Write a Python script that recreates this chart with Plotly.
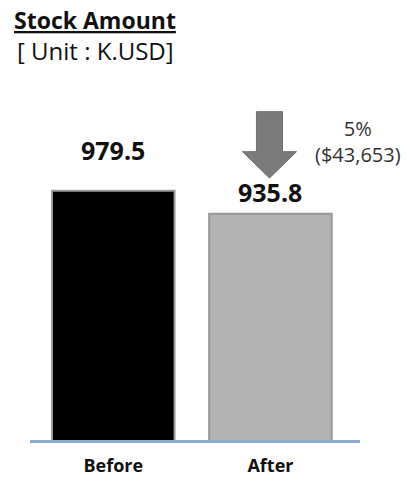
import plotly.graph_objects as go

categories = ["Before", "After"]
values = [979.5, 935.8]
value_labels = ["979.5", "935.8"]
bar_colors = ["#000000", "#b3b3b3"]
change_pct = "5%"
change_amt = "($43,653)"

FONT = "Open Sans"

fig = go.Figure()
fig.add_trace(go.Bar(
    x=categories, y=values, width=0.78,
    marker=dict(color=bar_colors, line=dict(color=["#9a9a9a", "#999999"], width=2)),
    hoverinfo="skip",
))

# value labels
shifts = [22, 3]
for c, v, t, s in zip(categories, values, value_labels, shifts):
    fig.add_annotation(x=c, y=v, text=f"<b>{t}</b>", showarrow=False,
                       yanchor="bottom", yshift=s,
                       font=dict(family=FONT, size=25, color="#111111"))

# down arrow above "After"
after = values[1]
xc = 0.994
sw, hw = 0.083, 0.172
y_top, y_head, y_tip = after + 194, after + 118, after + 68
path = (f"M {xc-sw},{y_top} L {xc+sw},{y_top} L {xc+sw},{y_head} L {xc+hw},{y_head} "
        f"L {xc},{y_tip} L {xc-hw},{y_head} L {xc-sw},{y_head} Z")
fig.add_shape(type="path", path=path, xref="x", yref="y",
              fillcolor="#7a7a7a", line=dict(color="#6e6e6e", width=1))

fig.add_annotation(x=0.994, y=0.879, xref="paper", yref="paper",
                   text=f"{change_pct}<br>{change_amt}", showarrow=False,
                   xanchor="center", yanchor="middle",
                   font=dict(family=FONT, size=20, color="#333333"), align="center")

# titles
fig.add_annotation(xref="paper", yref="paper", x=-0.055, y=1.0, yshift=80,
                   xanchor="left", yanchor="middle", showarrow=False,
                   text="<b><u>Stock Amount</u></b>",
                   font=dict(family=FONT, size=23, color="#111111"))
fig.add_annotation(xref="paper", yref="paper", x=-0.045, y=1.0, yshift=50,
                   xanchor="left", yanchor="middle", showarrow=False,
                   text="[ Unit : K.USD]",
                   font=dict(family=FONT, size=24, color="#111111"))

fig.update_layout(
    width=407, height=477,
    margin=dict(l=30, r=47, t=100, b=37),
    plot_bgcolor="white", paper_bgcolor="white",
    showlegend=False,
    xaxis=dict(range=[-0.53, 1.57], showgrid=False, showline=True,
               linecolor="#8eaacb", linewidth=2.5, ticks="",
               automargin=False, ticklabelstandoff=8,
               tickfont=dict(family=FONT, size=18, color="#111111"),
               tickvals=categories, ticktext=[f"<b>{c}</b>" for c in categories]),
    yaxis=dict(range=[506, 1152], visible=False, automargin=False),
)
fig.write_html("out.html")
